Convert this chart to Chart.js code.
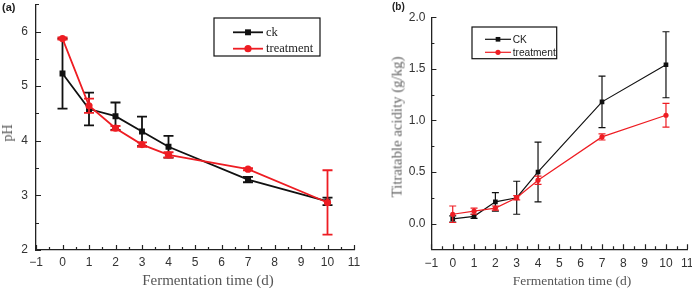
<!DOCTYPE html>
<html>
<head>
<meta charset="utf-8">
<script src="https://cdn.jsdelivr.net/npm/chart.js"></script>
<style>
  html, body { margin: 0; padding: 0; background: #fff; }
  body { width: 692px; height: 288px; position: relative; overflow: hidden; }
  canvas { position: absolute; top: 0; }
  #chartA { left: 0; }
  #chartB { left: 346px; }
  .txt { position: absolute; white-space: nowrap; line-height: 1; color: #555; font-family: "Liberation Serif", "Times New Roman", serif; }
  .panel { position: absolute; font-family: "Liberation Sans", Arial, sans-serif; font-weight: bold; color: #222; line-height: 1; }
</style>
</head>
<body>
<canvas id="chartA" width="370" height="288"></canvas>
<canvas id="chartB" width="346" height="288"></canvas>

<div class="panel" style="left:2px; top:2px; font-size:11px;">(a)</div>
<div class="panel" style="left:392px; top:2px; font-size:10px;">(b)</div>
<div class="txt" style="left:208px; top:273px; font-size:15px; transform:translateX(-50%);">Fermentation time (d)</div>
<div class="txt" style="left:7.5px; top:133px; font-size:14px; transform:translate(-50%,-50%) rotate(-90deg);">pH</div>
<div class="txt" style="left:572px; top:274px; font-size:13.5px; transform:translateX(-50%);">Fermentation time (d)</div>
<div class="txt" style="left:397px; top:126.5px; font-size:14.8px; color:#666; transform:translate(-50%,-50%) rotate(-90deg);">Titratable acidity (g/kg)</div>

<script>
// sampling days
const days = [0, 1, 2, 3, 4, 7, 10];

// (a) pH
const phCk = [5.23, 4.58, 4.45, 4.17, 3.89, 3.29, 2.89];
const phCkErr = [0.64, 0.30, 0.25, 0.27, 0.20, 0.05, 0.07];
const phTreat = [5.87, 4.64, 4.23, 3.93, 3.74, 3.48, 2.87];
const phTreatErr = [0.02, 0.13, 0.04, 0.04, 0.05, 0.02, 0.59];

// (b) titratable acidity, g/kg
const acidCk = [0.045, 0.07, 0.21, 0.25, 0.50, 1.18, 1.54];
const acidCkErr = [0.03, 0.02, 0.09, 0.16, 0.29, 0.25, 0.32];
const acidTreat = [0.09, 0.12, 0.15, 0.25, 0.42, 0.84, 1.05];
const acidTreatErr = [0.08, 0.03, 0.02, 0.02, 0.04, 0.03, 0.115];

// tick labels
const dayTicks = [-1, 0, 1, 2, 3, 4, 5, 6, 7, 8, 9, 10, 11];
const phTicks = [2, 3, 4, 5, 6];
const acidTicks = [0, 0.5, 1.0, 1.5, 2.0];

const BLACK = '#111';
const RED = '#ee1d23';

const toPoints = (ys) => days.map((d, i) => ({ x: d, y: ys[i] }));

// error bars drawn just before each dataset, so markers sit on top
const errorBars = {
    id: 'errorBars',
    beforeDatasetDraw(chart, args, opts) {
        const ds = chart.data.datasets[args.index];
        if (!ds.errors) return;
        const { x, y } = chart.scales;
        const ctx = chart.ctx;
        ctx.save();
        ctx.strokeStyle = ds.borderColor;
        ctx.lineWidth = opts.width;
        ds.data.forEach((p, i) => {
            const e = ds.errors[i];
            const px = x.getPixelForValue(p.x);
            const top = y.getPixelForValue(p.y + e);
            const bot = y.getPixelForValue(p.y - e);
            ctx.beginPath();
            ctx.moveTo(px, top); ctx.lineTo(px, bot);
            ctx.moveTo(px - opts.cap / 2, top); ctx.lineTo(px + opts.cap / 2, top);
            ctx.moveTo(px - opts.cap / 2, bot); ctx.lineTo(px + opts.cap / 2, bot);
            ctx.stroke();
        });
        ctx.restore();
    }
};

// Origin-style inward ticks, major + minor
function tickList(scale) {
    const t = scale.ticks.map(k => k.value);
    const step = t[1] - t[0];
    const half = step / 2;
    let v = t[0];
    while (v - half >= scale.min - 1e-9) v -= half;
    const out = [];
    for (; v <= scale.max + 1e-9; v += half) {
        const k = (v - t[0]) / step;
        out.push({ v, major: Math.abs(k - Math.round(k)) < 1e-6 });
    }
    return out;
}

const innerTicks = {
    id: 'innerTicks',
    afterDraw(chart, args, opts) {
        const ctx = chart.ctx;
        const area = chart.chartArea;
        const { x, y } = chart.scales;
        ctx.save();
        ctx.strokeStyle = opts.color;
        ctx.lineWidth = opts.width;
        ctx.beginPath();
        tickList(x).forEach(t => {
            const px = Math.round(x.getPixelForValue(t.v)) + 0.5;
            ctx.moveTo(px, area.bottom);
            ctx.lineTo(px, area.bottom - (t.major ? opts.major : opts.minor));
        });
        tickList(y).forEach(t => {
            const py = Math.round(y.getPixelForValue(t.v)) + 0.5;
            ctx.moveTo(area.left, py);
            ctx.lineTo(area.left + (t.major ? opts.major : opts.minor), py);
        });
        ctx.stroke();
        ctx.restore();
    }
};

// framed legend placed inside the plot
const boxLegend = {
    id: 'boxLegend',
    afterDraw(chart, args, o) {
        const ctx = chart.ctx;
        ctx.save();
        ctx.strokeStyle = '#111';
        ctx.lineWidth = o.border;
        ctx.strokeRect(o.left, o.top, o.width, o.height);
        ctx.font = o.font;
        ctx.textBaseline = 'middle';
        chart.data.datasets.forEach((ds, i) => {
            const cy = o.rows[i];
            const mid = (o.line[0] + o.line[1]) / 2;
            ctx.strokeStyle = ds.borderColor;
            ctx.lineWidth = ds.borderWidth;
            ctx.beginPath();
            ctx.moveTo(o.line[0], cy);
            ctx.lineTo(o.line[1], cy);
            ctx.stroke();
            ctx.fillStyle = ds.borderColor;
            ctx.beginPath();
            if (ds.pointStyle === 'rect') {
                const s = ds.pointRadius * Math.SQRT1_2;
                ctx.rect(mid - s, cy - s, 2 * s, 2 * s);
            } else {
                ctx.arc(mid, cy, ds.pointRadius, 0, Math.PI * 2);
            }
            ctx.fill();
            ctx.fillStyle = '#222';
            ctx.fillText(ds.label, o.textX, cy + 0.5);
        });
        ctx.restore();
    }
};

function makeChart(id, cfg) {
    const tickFont = { family: '"Liberation Sans", Arial, sans-serif', size: 12 };
    return new Chart(document.getElementById(id), {
        type: 'line',
        data: {
            datasets: [
                {
                    label: cfg.names[0],
                    data: toPoints(cfg.ck),
                    errors: cfg.ckErr,
                    borderColor: BLACK,
                    backgroundColor: BLACK,
                    borderWidth: cfg.lineWidth,
                    pointStyle: 'rect',
                    pointRadius: cfg.rectR,
                    pointBorderWidth: 0,
                    tension: 0,
                    order: 1
                },
                {
                    label: cfg.names[1],
                    data: toPoints(cfg.treat),
                    errors: cfg.treatErr,
                    borderColor: RED,
                    backgroundColor: RED,
                    borderWidth: cfg.lineWidth,
                    pointStyle: 'circle',
                    pointRadius: cfg.circleR,
                    pointBorderWidth: 0,
                    tension: 0,
                    order: 0
                }
            ]
        },
        options: {
            responsive: false,
            animation: false,
            layout: { padding: cfg.padding },
            plugins: {
                legend: { display: false },
                tooltip: { enabled: false },
                errorBars: { width: cfg.lineWidth, cap: cfg.cap },
                innerTicks: { color: '#222', width: 1.2, major: 5, minor: 3 },
                boxLegend: cfg.legend
            },
            scales: {
                x: {
                    type: 'linear',
                    min: -1,
                    max: 11,
                    grid: { display: false, drawTicks: false },
                    border: { display: true, color: '#222', width: 1.3 },
                    afterBuildTicks: (s) => { s.ticks = dayTicks.map(v => ({ value: v })); },
                    afterFit: (s) => { s.height = cfg.xHeight; s.paddingLeft = 0; s.paddingRight = 0; },
                    ticks: {
                        padding: cfg.xPad,
                        color: '#333',
                        font: tickFont,
                        maxRotation: 0,
                        autoSkip: false,
                        callback: (v) => String(v).replace('-', '\u2212')
                    }
                },
                y: {
                    type: 'linear',
                    min: cfg.yMin,
                    max: cfg.yMax,
                    grid: { display: false, drawTicks: false },
                    border: { display: true, color: '#222', width: 1.3 },
                    afterBuildTicks: (s) => { s.ticks = cfg.yTicks.map(v => ({ value: v })); },
                    afterFit: (s) => { s.width = cfg.yWidth; s.paddingTop = 0; s.paddingBottom = 0; },
                    ticks: {
                        padding: cfg.yPad,
                        color: '#333',
                        font: tickFont,
                        autoSkip: false,
                        callback: cfg.yFormat
                    }
                }
            }
        },
        plugins: [errorBars, innerTicks, boxLegend]
    });
}

makeChart('chartA', {
    names: ['ck', 'treatment'],
    ck: phCk, ckErr: phCkErr, treat: phTreat, treatErr: phTreatErr,
    lineWidth: 1.8, rectR: 4.2, circleR: 3.6, cap: 10,
    padding: { left: 0, top: 0, right: 16, bottom: 0 },
    xHeight: 38, yWidth: 36, xPad: 5, yPad: 8,
    yMin: 2, yMax: 6.5, yTicks: phTicks,
    yFormat: (v) => String(v),
    legend: {
        left: 214, top: 18, width: 106, height: 38, border: 1.2,
        rows: [32.3, 48.7], line: [233, 263], textX: 266,
        font: '12.5px "Liberation Serif", "Times New Roman", serif'
    }
});

makeChart('chartB', {
    names: ['CK', 'treatment'],
    ck: acidCk, ckErr: acidCkErr, treat: acidTreat, treatErr: acidTreatErr,
    lineWidth: 1.2, rectR: 3.3, circleR: 2.6, cap: 7,
    padding: { left: 0, top: 17.3, right: 4.7, bottom: 0 },
    xHeight: 38.7, yWidth: 85.4, xPad: 7, yPad: 6,
    yMin: -0.25, yMax: 2.0, yTicks: acidTicks,
    yFormat: (v) => v.toFixed(1),
    legend: {
        left: 126, top: 27, width: 84.7, height: 31.7, border: 1.2,
        rows: [39.3, 52.3], line: [139, 165], textX: 166.7,
        font: '10.2px "Liberation Sans", Arial, sans-serif'
    }
});
</script>
</body>
</html>
